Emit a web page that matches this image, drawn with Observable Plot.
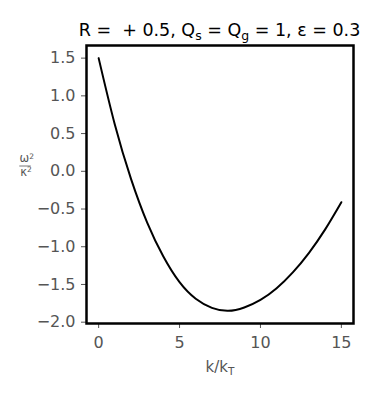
<!DOCTYPE html>
<html>
<head>
<meta charset="utf-8">
<script src="https://cdn.jsdelivr.net/npm/d3@7"></script>
<script src="https://cdn.jsdelivr.net/npm/@observablehq/plot@0.6"></script>
<style>
  html, body { margin: 0; padding: 0; background: white; }
  #chart { width: 379px; height: 400px; }
</style>
</head>
<body>
<div id="chart"></div>
<script>
// Values
const kValues = [0, 1, 2, 3, 4, 5, 6, 7, 8, 9, 10, 11, 12, 13, 14, 15];
const omegaRatio = [1.50, 0.62, -0.10, -0.68, -1.13, -1.47, -1.69, -1.81, -1.85, -1.805, -1.705, -1.55, -1.34, -1.08, -0.77, -0.41];
const xTicks = [0, 5, 10, 15];
const yTicks = [-2.0, -1.5, -1.0, -0.5, 0.0, 0.5, 1.0, 1.5];

const data = kValues.map((k, i) => ({k, w: omegaRatio[i]}));

const chart = Plot.plot({
  width: 379,
  height: 400,
  marginLeft: 86,
  marginRight: 26,
  marginTop: 45,
  marginBottom: 77,
  style: {fontFamily: "DejaVu Sans", fontSize: "16px", color: "#555", background: "white"},
  x: {domain: [-0.75, 15.75]},
  y: {domain: [-2.0175, 1.6675]},
  marks: [
    Plot.axisX({ticks: xTicks, tickSize: 5, tickPadding: 8, tickFormat: d3.format("d"), label: null, fontSize: 16}),
    Plot.axisY({ticks: yTicks, tickSize: 5, tickPadding: 6, tickFormat: d3.format(".1f"), label: null, fontSize: 16}),
    Plot.line(data, {x: "k", y: "w", curve: "natural", stroke: "black", strokeWidth: 2}),
    Plot.frame({stroke: "black", strokeWidth: 2.5})
  ]
});
document.getElementById("chart").appendChild(chart);

const svg = d3.select(chart);
// Title
const t = svg.append("text")
  .attr("x", 219.5).attr("y", 36)
  .attr("text-anchor", "middle")
  .attr("font-family", "DejaVu Sans")
  .attr("font-size", 17.5)
  .attr("fill", "black");
t.append("tspan").text("R =  + 0.5, Q");
t.append("tspan").attr("dy", 3.5).attr("font-size", 12.5).text("s");
t.append("tspan").attr("dy", -3.5).text(" = Q");
t.append("tspan").attr("dy", 3.5).attr("font-size", 12.5).text("g");
t.append("tspan").attr("dy", -3.5).text(" = 1, ε = 0.3");

// X label
const xl = svg.append("text")
  .attr("x", 220).attr("y", 372)
  .attr("text-anchor", "middle")
  .attr("font-family", "DejaVu Sans")
  .attr("font-size", 15)
  .attr("fill", "#555");
xl.append("tspan").text("k/k");
xl.append("tspan").attr("dy", 2.5).attr("font-size", 10.5).text("T");

// Y label (fraction omega^2 / kappa^2), each as one text
function frac(x, y, size, base) {
  const tx = svg.append("text").attr("x", x).attr("y", y)
    .attr("font-family", "DejaVu Sans").attr("font-size", size)
    .attr("fill", "#555").attr("text-anchor", "start");
  tx.append("tspan").text(base);
  tx.append("tspan").attr("dy", -3.5).attr("font-size", 7.5).text("2");
}
frac(19.5, 162, 11.5, "ω");
svg.append("line").attr("x1", 19.3).attr("x2", 30.7).attr("y1", 166).attr("y2", 166)
  .attr("stroke", "#555").attr("stroke-width", 0.8);
frac(20.2, 175.5, 11.5, "κ");
</script>
</body>
</html>
